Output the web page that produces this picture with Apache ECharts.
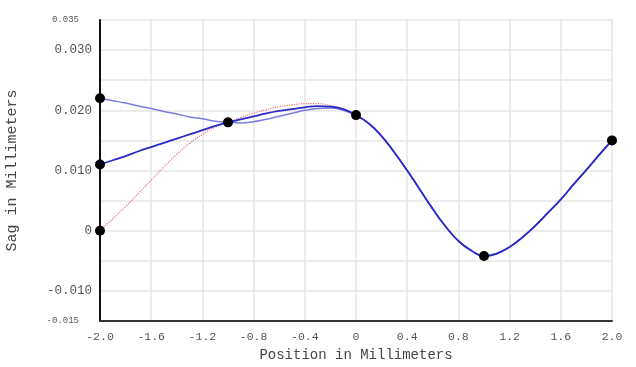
<!DOCTYPE html>
<html>
<head>
<meta charset="utf-8">
<script src="https://cdn.jsdelivr.net/npm/echarts@6/dist/echarts.min.js"></script>
<style>html,body{margin:0;padding:0;background:#fff}#c{width:636px;height:367px}</style>
</head>
<body>
<div id="c"></div>
<script>
// x positions (mm) where curves were read
const xs = [-2.0,-1.9,-1.8,-1.7,-1.6,-1.5,-1.4,-1.3,-1.2,-1.1,-1.0,-0.9,-0.8,-0.7,-0.6,-0.5,-0.4,-0.3,-0.2,-0.1,0.0,
            0.1,0.2,0.3,0.4,0.5,0.6,0.7,0.8,0.9,1.0,1.1,1.2,1.3,1.4,1.5,1.6,1.7,1.8,1.9,2.0];
// shared right part (x = 0.1 .. 2.0)
const rightPart = [0.0178,0.0157,0.0130,0.0100,0.0068,0.0036,0.0007,-0.0017,-0.0033,-0.0042,
                   -0.0038,-0.0027,-0.0011,0.0008,0.0030,0.0052,0.0077,0.0101,0.0126,0.0150];
// left parts (x = -2.0 .. 0.0)
const curveTopLeft = [0.0220,0.0216,0.0212,0.0207,0.0203,0.0198,0.0194,0.0189,0.0186,0.0182,0.0180,
                      0.0179,0.0181,0.0185,0.0190,0.0195,0.0200,0.0203,0.0204,0.0200,0.0192];
const curveMidLeft = [0.0110,0.0117,0.0124,0.0132,0.0139,0.0146,0.0153,0.0160,0.0167,0.0174,0.0180,
                      0.0185,0.0190,0.0195,0.0199,0.0202,0.0205,0.0207,0.0206,0.0202,0.0192];
const curveLowLeft = [0.0000,0.0020,0.0040,0.0062,0.0084,0.0106,0.0127,0.0145,0.0160,0.0172,0.0180,
                      0.0188,0.0195,0.0201,0.0206,0.0209,0.0211,0.0211,0.0208,0.0202,0.0192];
// control points
const pointsX = [-2.0,-2.0,-2.0,-1.0,0.0,1.0,2.0];
const pointsY = [0.022,0.011,0.0,0.018,0.0192,-0.0042,0.015];

function build(left){ return xs.map((x,i)=>[x, i<left.length ? left[i] : rightPart[i-left.length]]); }

const chart = echarts.init(document.getElementById('c'));
const mono = '"Liberation Mono","DejaVu Sans Mono",monospace';
chart.setOption({
  animation:false,
  grid:{left:100,right:24,top:20,bottom:46,outerBoundsMode:'none',containLabel:false},
  xAxis:{
    type:'value',min:-2,max:2,interval:0.4,
    name:'Position in Millimeters',nameLocation:'middle',nameGap:27,
    nameTextStyle:{fontFamily:mono,fontSize:14,color:'#444'},
    axisLine:{show:true,onZero:false,lineStyle:{color:'#333',width:2}},
    axisTick:{show:false},
    axisLabel:{fontFamily:mono,fontSize:11.5,color:'#555',margin:10,
      formatter:v=>Math.abs(v)<1e-9?'0':v.toFixed(1)},
    splitLine:{show:true,lineStyle:{color:'#e6e6e6',width:1.5}}
  },
  yAxis:{
    type:'value',min:-0.015,max:0.035,interval:0.005,
    name:'Sag in Millimeters',nameLocation:'middle',nameGap:80,
    nameTextStyle:{fontFamily:mono,fontSize:15,color:'#444'},
    axisLine:{show:true,onZero:false,lineStyle:{color:'#111',width:2}},
    axisTick:{show:false},
    axisLabel:{fontFamily:mono,fontSize:12.5,color:'#555',margin:8,
      formatter:function(v){
        const k=Math.round(v*1000);
        if(k===35||k===-15) return '{s|'+(k/1000).toFixed(3)+'}';
        if(k===0) return '0';
        if(k%10===0) return (k/1000).toFixed(3);
        return '';
      },
      rich:{s:{fontFamily:mono,fontSize:9,color:'#555',padding:[0,13,0,0]}}
    },
    splitLine:{show:true,lineStyle:{color:'#e6e6e6',width:1.5}}
  },
  series:[
    {type:'line',data:build(curveLowLeft),showSymbol:false,smooth:true,
      lineStyle:{color:'#e47878',width:1.2,type:'dotted'},z:2},
    {type:'line',data:build(curveTopLeft),showSymbol:false,smooth:true,
      lineStyle:{color:'#7d7de0',width:1.5},z:3},
    {type:'line',data:build(curveMidLeft),showSymbol:false,smooth:true,
      lineStyle:{color:'#2a2ac8',width:1.8},z:4},
    {type:'scatter',data:pointsX.map((x,i)=>[x,pointsY[i]]),symbolSize:10,
      itemStyle:{color:'#000',opacity:1},z:5}
  ]
});
</script>
</body>
</html>
